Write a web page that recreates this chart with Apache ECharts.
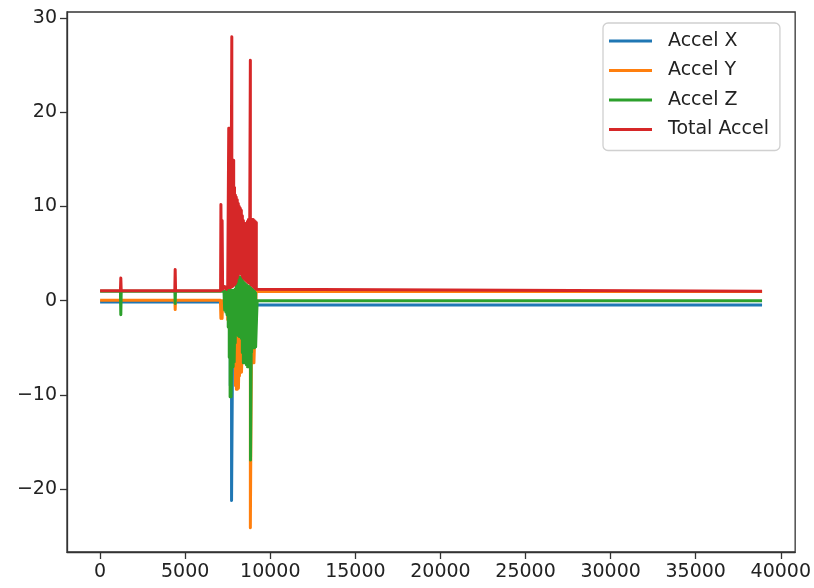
<!DOCTYPE html>
<html><head><meta charset="utf-8">
<script src="https://cdn.jsdelivr.net/npm/echarts@6/dist/echarts.min.js"></script>
<style>html,body{margin:0;padding:0;background:#fff}#c{width:814px;height:588px}</style>
</head><body><div id="c"></div><script>
// ---- tick labels ----
const xTicks = [0, 5000, 10000, 15000, 20000, 25000, 30000, 35000, 40000];
const yTicks = [-20, -10, 0, 10, 20, 30];
const seriesNames = ['Accel X', 'Accel Y', 'Accel Z', 'Total Accel'];

// ---- Accel X ----
const accelX_lead_x = [0, 7090];
const accelX_lead_y = [-0.15, -0.15];
const accelX_burst_x  = [7320, 7400, 7550, 7650, 7725, 7800, 7950, 8150, 8350, 8550, 8750, 8950, 9120];
const accelX_burst_hi = [-0.2, -0.3, -0.5, -1.0, -1.0, -1.0, -1.0, -1.0, -1.0, -1.0, -1.0, -1.0, -0.8];
const accelX_burst_lo = [-0.6, -0.8, -2.5, -9.0, -21.2, -5.0, -3.0, -3.0, -3.0, -4.5, -4.5, -4.0, -3.0];
const accelX_tail_x = [9200, 38900];
const accelX_tail_y = [-0.45, -0.45];

// ---- Accel Y ----
const accelY_lead_x = [0, 4395, 4412, 4430, 7070, 7100, 7130, 7170, 7200, 7260];
const accelY_lead_y = [0.05, 0.05, -0.95, 0.05, 0.05, -1.9, 0.0, -1.9, 0.0, -0.3];
const accelY_burst_x  = [7350, 7500, 7650, 7800, 7890, 7950, 8010, 8070, 8130, 8190, 8250, 8310, 8370, 8450, 8600, 8750, 8830, 8900, 8980, 9040, 9100];
const accelY_burst_hi = [-0.3, -0.5, -1.0, -1.0, -3.4, -3.5, -3.5, -3.5, -3.5, -3.6, -3.7, -3.8, -4.0, -3.0, -3.0, -3.0, -3.0, -3.0, -4.0, -4.0, -3.0];
const accelY_burst_lo = [-0.8, -2.0, -4.0, -4.0, -5.0, -9.0, -9.4, -9.4, -9.3, -8.0, -7.6, -7.6, -6.0, -5.0, -5.0, -5.0, -24.1, -4.5, -6.6, -6.6, -4.5];
const accelY_tail_x = [9170, 38900];
const accelY_tail_y = [0.98, 0.98];

// ---- Accel Z ----
const accelZ_lead_x = [0, 1195, 1217, 1240, 4395, 4412, 4430, 7280];
const accelZ_lead_y = [1.0, 1.0, -1.5, 1.0, 1.0, -0.3, 1.0, 1.0];
const accelZ_burst_x  = [7320, 7390, 7460, 7530, 7590, 7640, 7700, 7760, 7820, 7880, 7940, 8000, 8060, 8120, 8180, 8240, 8300, 8360, 8420, 8480, 8540, 8600, 8660, 8720, 8780, 8840, 8900, 8960, 9020, 9080, 9140];
const accelZ_burst_hi = [1.1, 1.1, 1.1, 1.1, 1.1, 1.1, 1.1, 1.1, 1.1, 1.1, 1.2, 1.6, 2.0, 2.3, 2.5, 2.5, 2.4, 2.2, 2.0, 1.9, 1.8, 1.7, 1.6, 1.5, 1.5, 1.4, 1.3, 1.2, 1.1, 1.0, 0.8];
const accelZ_burst_lo = [-1.0, -1.2, -1.5, -2.8, -6.0, -10.2, -10.2, -7.0, -7.0, -6.5, -4.5, -3.6, -3.6, -3.7, -3.8, -3.8, -4.0, -5.5, -6.6, -6.6, -6.6, -6.8, -7.0, -7.0, -6.0, -16.9, -5.5, -5.0, -5.0, -5.0, -4.9];
const accelZ_tail_x = [9190, 9230, 38900];
const accelZ_tail_y = [-2.0, 0.0, 0.0];

// ---- Total Accel ----
const total_lead_x = [0, 1195, 1217, 1240, 4390, 4412, 4435, 7080, 7100, 7130, 7170, 7200, 7240, 7320, 7420, 7500];
const total_lead_y = [1.05, 1.05, 2.4, 1.05, 1.05, 3.3, 1.05, 1.05, 10.2, 1.2, 8.5, 1.2, 1.1, 1.5, 1.2, 1.6];
const total_burst_x  = [7560, 7620, 7680, 7740, 7790, 7850, 7900, 7950, 8000, 8060, 8120, 8180, 8240, 8300, 8360, 8420, 8480, 8540, 8600, 8660, 8720, 8780, 8830, 8880, 8940, 9000, 9060, 9120, 9180];
const total_burst_hi = [18.3, 18.3, 18.3, 28.0, 14.9, 14.9, 12.0, 11.2, 11.0, 10.7, 10.3, 10.0, 9.8, 9.6, 9.0, 8.5, 8.2, 8.2, 8.2, 8.4, 8.6, 8.6, 25.5, 8.6, 8.6, 8.6, 8.5, 8.4, 8.3];
const total_burst_lo = [1.4, 1.4, 1.4, 1.5, 1.5, 1.6, 1.7, 1.8, 2.0, 2.4, 2.7, 2.9, 2.9, 2.8, 2.6, 2.4, 2.3, 2.2, 2.1, 2.0, 1.9, 1.9, 1.8, 1.7, 1.6, 1.5, 1.4, 1.3, 1.2];
const total_tail_x = [9220, 38900];
const total_tail_y = [1.0, 1.0];

const colors = ['#1f77b4', '#ff7f0e', '#2ca02c', '#d62728'];

function pairs(xs, ys) { return xs.map((x, i) => [x, ys[i]]); }
function zig(xs, hi, lo) { const out = []; xs.forEach((x, i) => { out.push([x, hi[i]]); out.push([x, lo[i]]); }); return out; }

const dataX = [].concat(pairs(accelX_lead_x, accelX_lead_y), zig(accelX_burst_x, accelX_burst_hi, accelX_burst_lo), pairs(accelX_tail_x, accelX_tail_y));
const dataY = [].concat(pairs(accelY_lead_x, accelY_lead_y), zig(accelY_burst_x, accelY_burst_hi, accelY_burst_lo), pairs(accelY_tail_x, accelY_tail_y));
const dataZ = [].concat(pairs(accelZ_lead_x, accelZ_lead_y), zig(accelZ_burst_x, accelZ_burst_hi, accelZ_burst_lo), pairs(accelZ_tail_x, accelZ_tail_y));
const dataT = [].concat(pairs(total_lead_x, total_lead_y), zig(total_burst_x, total_burst_hi, total_burst_lo), pairs(total_tail_x, total_tail_y));
const allData = [dataX, dataY, dataZ, dataT];

const FONT = 'DejaVu Sans';
const chart = echarts.init(document.getElementById('c'), null, { renderer: 'canvas' });
chart.setOption({
  animation: false,
  backgroundColor: '#fff',
  grid: { left: 67, right: 17, top: 12, bottom: 36, show: true, borderColor: '#333', borderWidth: 1.3, backgroundColor: 'transparent' },
  legend: {
    orient: 'vertical', left: 603, top: 23,
    padding: [8, 11, 11, 6], itemGap: 9.5, itemWidth: 43, itemHeight: 3, icon: 'rect',
    backgroundColor: '#fff', borderColor: '#d0d0d0', borderWidth: 1.3, borderRadius: 5,
    textStyle: { fontFamily: FONT, fontSize: 19, color: '#222', lineHeight: 20, padding: [0, 0, 0, 11] },
    data: seriesNames
  },
  xAxis: {
    type: 'value', min: -1945, max: 40845,
    splitLine: { show: false },
    axisLine: { show: true, onZero: false, lineStyle: { color: '#333', width: 1.3 } },
    axisTick: { show: true, length: 7, customValues: xTicks, lineStyle: { color: '#333', width: 1.3 } },
    axisLabel: { customValues: xTicks, fontFamily: FONT, fontSize: 19, color: '#222', margin: 11,
      formatter: v => String(v) }
  },
  yAxis: {
    type: 'value', min: -26.67, max: 30.63,
    splitLine: { show: false },
    axisLine: { show: true, onZero: false, lineStyle: { color: '#333', width: 1.3 } },
    axisTick: { show: true, length: 7, customValues: yTicks, lineStyle: { color: '#333', width: 1.3 } },
    axisLabel: { customValues: yTicks, fontFamily: FONT, fontSize: 19, color: '#222', margin: 10,
      formatter: v => (v < 0 ? '\u2212' + Math.abs(v) : String(v)) }
  },
  series: seriesNames.map((n, i) => ({
    name: n, type: 'line', data: allData[i], symbol: 'none', showSymbol: false,
    color: colors[i],
    lineStyle: { width: 3, color: colors[i], join: 'round' },
    z: 2 + i
  }))
});
</script></body></html>
